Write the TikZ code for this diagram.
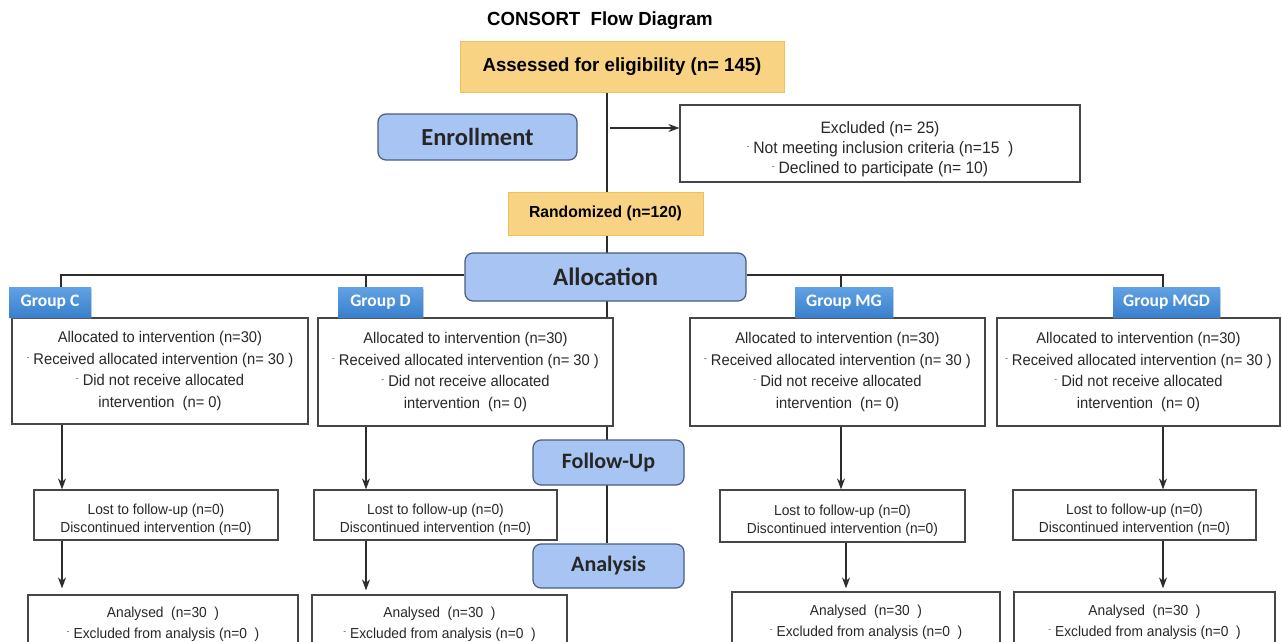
\documentclass[tikz,border=0pt]{standalone}
\usepackage{fontspec}
\setmainfont{Liberation Sans}
\newfontfamily\narrowf{Liberation Sans}[FakeStretch=0.95]
\newfontfamily\boldnarrow{Liberation Sans Bold}[FakeStretch=0.98]
\newfontfamily\calib{Carlito}
\usetikzlibrary{shadows,arrows.meta}
\pgfdeclarelayer{bg}
\pgfsetlayers{bg,main}
\definecolor{yfill}{RGB}{249,211,132}
\definecolor{yborder}{RGB}{240,192,95}
\definecolor{bfill}{RGB}{168,196,242}
\definecolor{bborder}{RGB}{75,92,125}
\definecolor{gtop}{RGB}{98,162,228}
\definecolor{gbot}{RGB}{58,128,204}
\definecolor{boxgray}{RGB}{70,70,70}
\definecolor{lgray}{RGB}{45,45,45}
\definecolor{txt}{RGB}{40,40,40}
\definecolor{bulgray}{RGB}{90,90,90}
\newcommand\bul{\raisebox{0.5ex}{\color{bulgray}\fontsize{9}{9}\selectfont -}\hspace{4pt}}
\begin{document}
\begin{tikzpicture}[x=1pt,y=-1pt,
  txtbox/.style={draw=boxgray, line width=1.2pt, fill=white, align=center, inner sep=0pt,
     font=\narrowf\fontsize{15.5}{21.5}\selectfont, text=txt},
  lostbox/.style={txtbox, font=\narrowf\fontsize{14.5}{18}\selectfont},
  anbox/.style={txtbox, font=\narrowf\fontsize{14.5}{21}\selectfont},
  ybox/.style={draw=yborder, fill=yfill, line width=1pt, inner sep=0pt, align=center, text=black},
  bbox/.style={draw=bborder, fill=bfill, line width=1.2pt, rounded corners=8pt, inner sep=0pt,
     text=black!85},
  glabel/.style={top color=gtop, bottom color=gbot, draw=none, text=white, inner sep=0pt,
     font=\calib\bfseries\fontsize{17.5}{20}\selectfont,
     drop shadow={opacity=0.35, shadow xshift=1pt, shadow yshift=-2pt}},
  conn/.style={draw=lgray, line width=1.3pt},
  arr/.style={conn, -{Stealth[length=11pt,width=8pt]}}
]
\useasboundingbox (0,0) rectangle (1282,642);
\clip (0,0) rectangle (1282,642);

% title
\node[font=\boldnarrow\fontsize{19}{21}\selectfont] (title) at (600,21) {CONSORT\ \ Flow Diagram};

% spine column boxes
\node[ybox, minimum width=324pt, minimum height=50pt, font=\boldnarrow\fontsize{19}{22}\selectfont] (assess) at (622,67) {Assessed for eligibility (n= 145)};
\node[bbox, minimum width=199pt, minimum height=46pt, font=\calib\bfseries\fontsize{24.5}{26}\selectfont] (enrol) at (477.5,137) {Enrollment};
\node[txtbox, minimum width=400pt, minimum height=77pt, font=\narrowf\fontsize{16.5}{20}\selectfont] (excl) at (880,143.5)
  {\rule{0pt}{24pt}Excluded (n= 25)\\ \bul Not meeting inclusion criteria (n=15\ \ )\\ \bul Declined to participate (n= 10)};
\node[ybox, minimum width=195pt, minimum height=43pt, font=\boldnarrow\fontsize{16}{18}\selectfont] (rand) at (605.5,213.5) {Randomized (n=120)};
\node[bbox, minimum width=281pt, minimum height=48pt, font=\calib\bfseries\fontsize{25}{27}\selectfont] (alloc) at (605.5,277) {Allocation};
\node[bbox, minimum width=151pt, minimum height=45pt, font=\calib\bfseries\fontsize{22}{24}\selectfont] (follow) at (608.5,462.5) {Follow-Up};
\node[bbox, minimum width=151pt, minimum height=44pt, font=\calib\bfseries\fontsize{22}{24}\selectfont] (anal) at (608.5,566) {Analysis};

% column coordinates
\coordinate (sp) at (607,0);
\coordinate (xc) at (61,275);
\coordinate (xd) at (366,275);
\coordinate (xmg) at (841,275);
\coordinate (xmgd) at (1163,275);

% group boxes
\newcommand\grouptext{Allocated to intervention (n=30)\\ \bul Received allocated intervention (n= 30 )\\ \bul Did not receive allocated\\ intervention\ \ (n= 0)}
\node[txtbox, minimum width=296pt, minimum height=106pt] (bc) at (160,371) {\grouptext};
\node[txtbox, minimum width=295pt, minimum height=108pt] (bd) at (465.5,372) {\grouptext};
\node[txtbox, minimum width=295pt, minimum height=108pt] (bmg) at (837.5,372) {\grouptext};
\node[txtbox, minimum width=283pt, minimum height=108pt] (bmgd) at (1138.5,372) {\grouptext};

% group labels
\node[glabel, minimum width=82pt, minimum height=30pt] (gc) at (50,302) {Group C};
\node[glabel, minimum width=85pt, minimum height=30pt] (gd) at (380.5,302) {Group D};
\node[glabel, minimum width=98pt, minimum height=30pt] (gmg) at (844,302) {Group MG};
\node[glabel, minimum width=107pt, minimum height=30pt] (gmgd) at (1166.5,302) {Group MGD};

% lost boxes
\newcommand\losttext{\rule{0pt}{19pt}Lost to follow-up (n=0)\\Discontinued intervention (n=0)}
\node[lostbox, minimum width=244pt, minimum height=50pt] (lc) at (156,515) {\losttext};
\node[lostbox, minimum width=243pt, minimum height=50pt] (ld) at (435.5,515) {\losttext};
\node[lostbox, minimum width=245pt, minimum height=52pt] (lmg) at (842.5,516) {\losttext};
\node[lostbox, minimum width=243pt, minimum height=50pt] (lmgd) at (1134.5,515) {\losttext};

% analysed boxes
\newcommand\antext{Analysed\ \ (n=30\ \ )\\ \bul Excluded from analysis (n=0\ \ )}
\node[anbox, minimum width=270pt, minimum height=59pt] (ac) at (163,624.5) {\antext};
\node[anbox, minimum width=255pt, minimum height=59pt] (ad) at (439.5,624.5) {\antext};
\node[anbox, minimum width=268pt, minimum height=60pt] (amg) at (866,622) {\antext};
\node[anbox, minimum width=261pt, minimum height=60pt] (amgd) at (1144.5,622) {\antext};

% connectors behind boxes
\begin{pgfonlayer}{bg}
  \draw[conn] (sp |- assess.south) -- (sp |- anal.north);
  \draw[conn] (alloc.west |- xc) -- (xc) -- (xc |- gc.north);
  \draw[conn] (xd) -- (xd |- gd.north);
  \draw[conn] (alloc.east |- xmg) -- (xmgd) -- (xmgd |- gmgd.north);
  \draw[conn] (xmg) -- (xmg |- gmg.north);
\end{pgfonlayer}

% exclusion arrow
\coordinate (exo) at (610,128);
\draw[arr] (exo) -- (exo -| excl.west);

% vertical arrows
\coordinate (ac1) at (62,0);
\draw[arr] (ac1 |- bc.south) -- (ac1 |- lc.north);
\draw[arr] (xd |- bd.south) -- (xd |- ld.north);
\draw[arr] (xmg |- bmg.south) -- (xmg |- lmg.north);
\draw[arr] (xmgd |- bmgd.south) -- (xmgd |- lmgd.north);

\draw[arr, shorten >=6pt] (ac1 |- lc.south) -- (ac1 |- ac.north);
\draw[arr, shorten >=4pt] (xd |- ld.south) -- (xd |- ad.north);
\coordinate (xmg2) at (846,0);
\draw[arr, shorten >=3pt] (xmg2 |- lmg.south) -- (xmg2 |- amg.north);
\draw[arr, shorten >=3pt] (xmgd |- lmgd.south) -- (xmgd |- amgd.north);
\end{tikzpicture}
\end{document}
